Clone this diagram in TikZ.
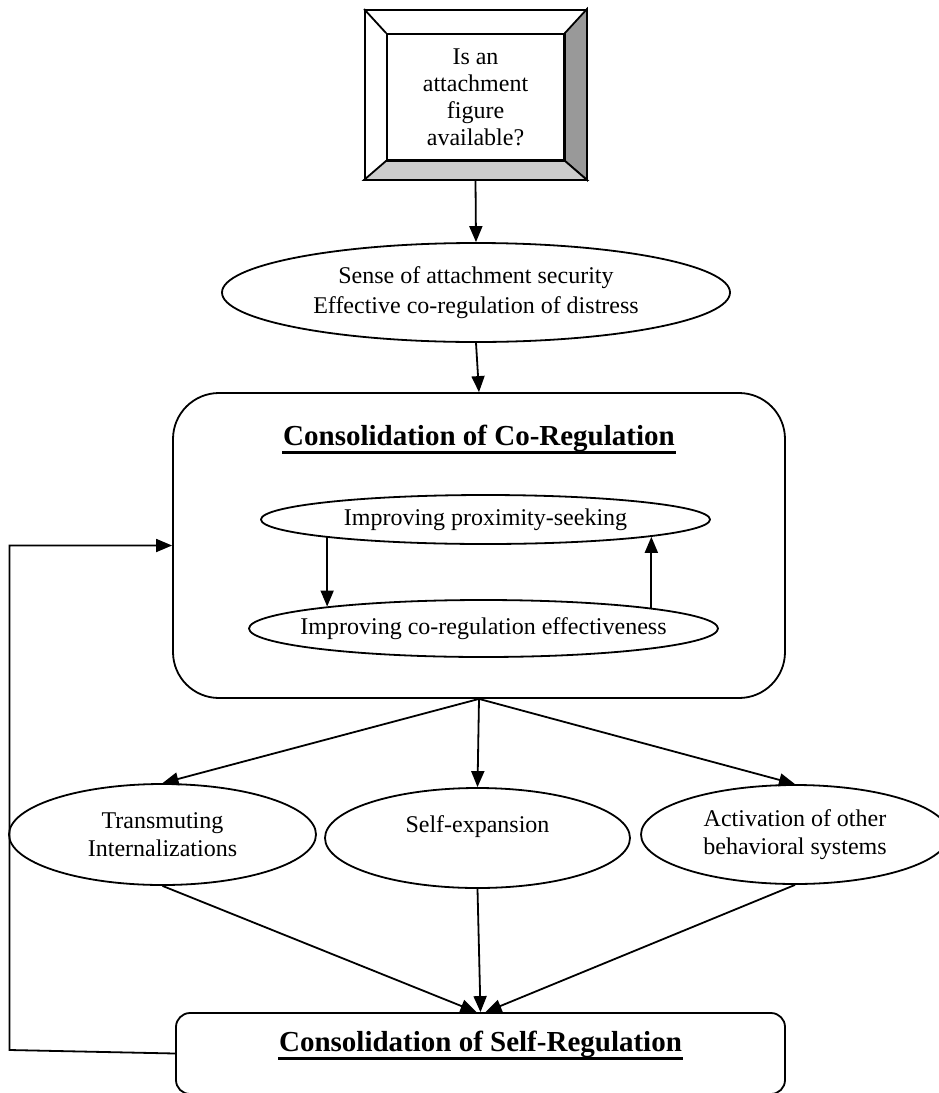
\documentclass[tikz,border=0pt]{standalone}
\usepackage{fontspec}
\setmainfont{Liberation Serif}
\usetikzlibrary{shapes.geometric,arrows.meta}

\begin{document}
\begin{tikzpicture}[x=1pt, y=-1pt,
    line width=1.8pt,
    oval/.style={ellipse, draw = black, inner sep=0pt},
    roundbox/.style={rectangle, draw = black, inner sep=0pt},
    txt/.style={align=center, font=\fontsize{24}{28}\selectfont},
    heading/.style={anchor=base, inner sep=0pt, font=\fontsize{29}{34}\selectfont\bfseries},
    underl/.style={line width=2.4pt},
    arr/.style={-{Triangle[length=16pt, width=13pt]}}]

\useasboundingbox (0,0) rectangle (938,1093);

% question box
\node[rectangle,
    draw = black,
    inner sep = 0pt,
    minimum width = 221pt,
    minimum height = 169pt] (attachframe) at (475.5,94.5) {};

\node[rectangle,
    draw = black,
    txt,
    font = \fontsize{24}{27}\selectfont,
    minimum width = 177pt,
    minimum height = 126pt] (attach) at (475.5,97) {Is an\\attachment\\figure\\available?};

% bevels of the frame
\filldraw[fill = black!40] (attachframe.north east) -- (attachframe.south east)
    -- (attach.south east) -- (attach.north east) -- cycle;
\filldraw[fill = black!20] (attachframe.south west) -- (attachframe.south east)
    -- (attach.south east) -- (attach.south west) -- cycle;
\draw (attachframe.north west) -- (attach.north west);

% security
\node[oval, txt,
    font = \fontsize{24}{30}\selectfont,
    minimum width = 508pt,
    minimum height = 99pt] (sense) at (476,292.5) {Sense of attachment security\\Effective co-regulation of distress\rule[-3pt]{0pt}{1pt}};

% co-regulation box
\node[roundbox,
    rounded corners = 46pt,
    minimum width = 612pt,
    minimum height = 305pt] (coreg) at (479,545.5) {};
\node[heading] (coregtitle) at (479,445) {Consolidation of Co-Regulation};
\draw[underl] ([yshift=-7.5pt]coregtitle.base west) -- ([yshift=-7.5pt]coregtitle.base east);

\node[oval, txt,
    minimum width = 449pt,
    minimum height = 49pt] (prox) at (485.5,519.5) {Improving proximity-seeking};
\node[oval, txt,
    inner xsep = -60pt,
    minimum width = 469pt,
    minimum height = 57pt] (eff) at (483.5,628.5) {Improving co-regulation effectiveness};

% three outcomes
\node[oval, txt,
    minimum width = 307pt,
    minimum height = 101pt] (trans) at (162.5,834.5) {Transmuting\\Internalizations};
\node[oval, txt,
    minimum width = 305pt,
    minimum height = 100pt] (selfexp) at (477.5,838) {Self-expansion\\\mbox{}};
\node[oval, txt,
    minimum width = 308pt,
    minimum height = 99pt] (activ) at (795,834.5) {Activation of other\\behavioral systems};

% self-regulation box
\node[roundbox,
    rounded corners = 14pt,
    minimum width = 609pt,
    minimum height = 81pt] (selfreg) at (480.5,1053.5) {};
\node[heading] (selfregtitle) at (480.5,1051) {Consolidation of Self-Regulation};
\draw[underl] ([yshift=-7.5pt]selfregtitle.base west) -- ([yshift=-7.5pt]selfregtitle.base east);

% arrows
\draw[arr] (attachframe.south) -- (sense.north);
\draw[arr] (sense.south) -- (coreg.north);
\draw[arr] (eff.172 |- prox.186) -- (eff.172);
\draw[arr] (eff.7.5) -- (eff.7.5 |- prox.354);

\draw[arr] (coreg.south) -- (trans.north);
\draw[arr] (coreg.south) -- (selfexp.north);
\draw[arr] (coreg.south) -- (activ.north);

\draw[arr] (trans.south) -- ([xshift=-4pt]selfreg.north);
\draw[arr] (selfexp.south) -- (selfreg.north);
\draw[arr] (activ.south) -- ([xshift=5pt]selfreg.north);

% feedback loop
\coordinate (loopbot) at (9.5,1050);
\draw[arr] (selfreg.west) -- (loopbot) -- (loopbot |- coreg.west) -- (coreg.west);

\end{tikzpicture}
\end{document}
